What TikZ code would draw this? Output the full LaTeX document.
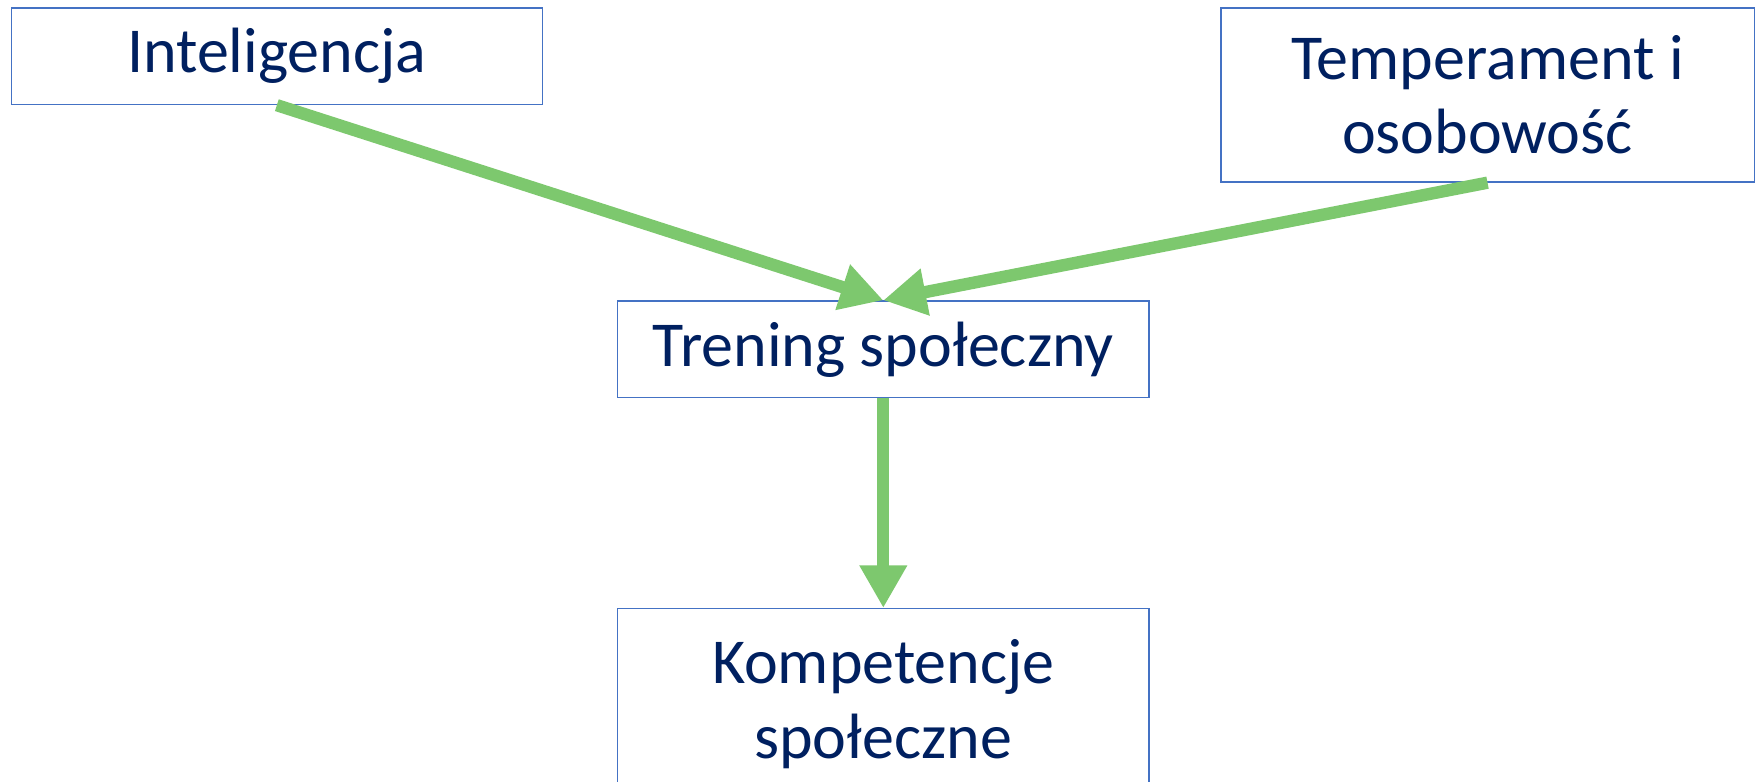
\documentclass[tikz,border=0pt]{standalone}
\usepackage{fontspec}
\setmainfont{Carlito}
\usetikzlibrary{arrows.meta}
\definecolor{txtblue}{HTML}{002060}
\definecolor{boxblue}{HTML}{4472C4}
\definecolor{arrgreen}{RGB}{125,200,110}
\tikzset{
  box/.style={draw=boxblue, line width=1.3pt, fill=white, text=txtblue, align=center,
    font=\fontsize{57}{66}\selectfont, inner sep=0pt, minimum width=473pt},
  conn/.style={draw=arrgreen, line width=11pt, -{Triangle[length=38pt,width=40pt]}}
}
\begin{document}
\begin{tikzpicture}[x=1pt,y=-1pt]
\clip (0,0) rectangle (1568,696);
\fill[white] (0,0) rectangle (1568,696);
\node[box, minimum height=86pt] (intel) at (246.5,50) {Inteligencja};
\node[box, minimum height=155pt, minimum width=475pt] (temp) at (1324.5,84.5) {Temperament i\\osobowość};
\node[box, minimum height=86pt] (tren) at (786.5,311) {Trening społeczny};
\node[box, minimum height=170pt] (komp) at (786.5,627) {Kompetencje\\społeczne};
\draw[conn] (intel.south) -- (tren.north);
\draw[conn] (temp.south) -- (tren.north);
\draw[conn] (tren.south) -- (komp.north);
\end{tikzpicture}
\end{document}
